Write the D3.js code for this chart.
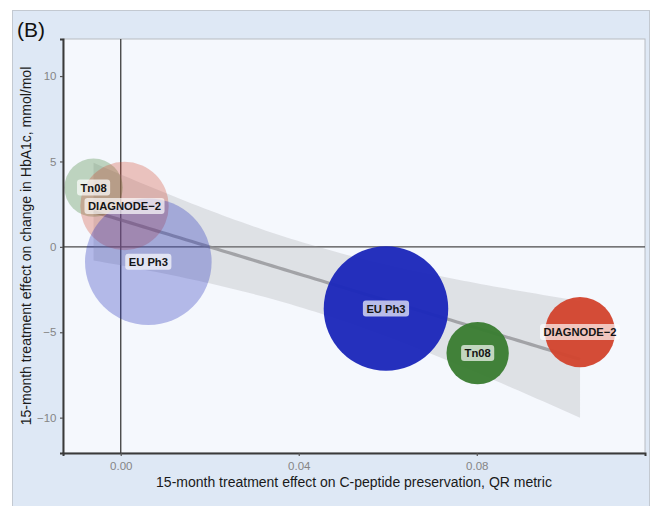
<!DOCTYPE html>
<html>
<head>
<meta charset="utf-8">
<script src="https://cdn.jsdelivr.net/npm/d3@7/dist/d3.min.js"></script>
<style>
  html, body { margin: 0; padding: 0; background: #ffffff; }
  svg { display: block; font-family: "Liberation Sans", Arial, Helvetica, sans-serif; }
</style>
</head>
<body>
<svg id="chart" width="652" height="506"></svg>
<script>
// Trial-level treatment effects: C-peptide preservation (QR metric) vs HbA1c change
const trialNames   = ["Tn08", "DIAGNODE\u22122", "EU Ph3", "EU Ph3", "Tn08", "DIAGNODE\u22122"];
const cpepEffect   = [-0.0061, 0.00085, 0.0062, 0.0596, 0.0802, 0.1032];
const hba1cEffect  = [3.47, 2.39, -0.87, -3.61, -6.22, -4.99];
const bubbleSize   = [8.5, 19.5, 40.0, 38.7, 9.7, 12.3];
const bubbleTone   = ["light", "light", "light", "full", "full", "full"];
const trialColour  = { "Tn08": "#3a7d32", "DIAGNODE\u22122": "#d2452f", "EU Ph3": "#1c28ba" };

const xTicks = [0.00, 0.04, 0.08];
const yTicks = [-10, -5, 0, 5, 10];
const xDomain = [-0.01297, 0.1178];
const yDomain = [-12.07, 12.17];
const T975_DF4 = 2.776; // Student t quantile, 95% two-sided, 4 df

const svg = d3.select("#chart");

// outer panel background
svg.append("rect")
  .attr("x", 12.5).attr("y", 10.5).attr("width", 637).attr("height", 500)
  .attr("fill", "#dee8f5").attr("stroke", "#c3c9d1").attr("stroke-width", 1);

const plot = { left: 63, right: 645, top: 39, bottom: 453 };

const x = d3.scaleLinear().domain(xDomain).range([plot.left, plot.right]);
const y = d3.scaleLinear().domain(yDomain).range([plot.bottom, plot.top]);
const r = d3.scaleSqrt().domain([0, 40]).range([0, 63.3]);

// plotting area
svg.append("rect")
  .attr("x", plot.left).attr("y", plot.top)
  .attr("width", plot.right - plot.left).attr("height", plot.bottom - plot.top)
  .attr("fill", "#f5f8fd").attr("stroke", "#b8bcc2").attr("stroke-width", 1);

const g = svg.append("g");

// reference lines at zero
g.append("line")
  .attr("x1", plot.left).attr("x2", plot.right)
  .attr("y1", y(0)).attr("y2", y(0))
  .attr("stroke", "#4a4a4a").attr("stroke-width", 1.4);
g.append("line")
  .attr("x1", x(0)).attr("x2", x(0))
  .attr("y1", plot.top).attr("y2", plot.bottom)
  .attr("stroke", "#4a4a4a").attr("stroke-width", 1.4);

// least-squares fit with 95% confidence band
const n = cpepEffect.length;
const mx = d3.mean(cpepEffect), my = d3.mean(hba1cEffect);
const sxx = d3.sum(cpepEffect, v => (v - mx) ** 2);
const sxy = d3.sum(cpepEffect.map((v, i) => (v - mx) * (hba1cEffect[i] - my)));
const slope = sxy / sxx, intercept = my - slope * mx;
const rss = d3.sum(cpepEffect.map((v, i) => (hba1cEffect[i] - (intercept + slope * v)) ** 2));
const sigma = Math.sqrt(rss / (n - 2));
const [xMin, xMax] = d3.extent(cpepEffect);
const fitPts = d3.range(80).map(k => {
  const xv = xMin + (xMax - xMin) * k / 79;
  const fit = intercept + slope * xv;
  const half = T975_DF4 * sigma * Math.sqrt(1 / n + (xv - mx) ** 2 / sxx);
  return { xv, fit, lo: fit - half, hi: fit + half };
});

g.append("path")
  .datum(fitPts)
  .attr("d", d3.area().x(d => x(d.xv)).y0(d => y(d.lo)).y1(d => y(d.hi)))
  .attr("fill", "#9a9ca0").attr("fill-opacity", 0.25);
g.append("path")
  .datum(fitPts)
  .attr("d", d3.line().x(d => x(d.xv)).y(d => y(d.fit)))
  .attr("fill", "none").attr("stroke", "#8e8e92").attr("stroke-opacity", 0.75)
  .attr("stroke-width", 3.2);

// bubbles
const rows = trialNames.map((name, i) => ({
  name, cx: cpepEffect[i], cy: hba1cEffect[i], size: bubbleSize[i], tone: bubbleTone[i]
}));

g.selectAll("circle.bubble")
  .data(rows)
  .join("circle")
  .attr("class", "bubble")
  .attr("cx", d => x(d.cx)).attr("cy", d => y(d.cy)).attr("r", d => r(d.size))
  .attr("fill", d => trialColour[d.name])
  .attr("fill-opacity", d => d.tone === "light" ? 0.3 : 0.96);

// value labels
const labels = g.selectAll("g.lab")
  .data(rows)
  .join("g")
  .attr("class", "lab")
  .attr("transform", d => `translate(${x(d.cx)},${y(d.cy)})`);

labels.append("text")
  .attr("text-anchor", "middle")
  .attr("dy", "0.36em")
  .attr("font-size", 11.2)
  .attr("font-weight", "bold")
  .attr("fill", "#151515")
  .text(d => d.name);

labels.each(function () {
  const grp = d3.select(this);
  const bb = grp.select("text").node().getBBox();
  grp.insert("rect", "text")
    .attr("x", bb.x - 3.5).attr("y", bb.y - 2)
    .attr("width", bb.width + 7).attr("height", bb.height + 4)
    .attr("rx", 3).attr("ry", 3)
    .attr("fill", "#ffffff").attr("fill-opacity", 0.68);
});

// axes
const xAxis = d3.axisBottom(x).tickValues(xTicks).tickFormat(d3.format(".2f")).tickSizeOuter(0).tickSize(3);
const yAxis = d3.axisLeft(y).tickValues(yTicks).tickFormat(d3.format("d")).tickSizeOuter(0).tickSize(3);

const gx = svg.append("g").attr("transform", `translate(0,${plot.bottom})`).call(xAxis);
const gy = svg.append("g").attr("transform", `translate(${plot.left},0)`).call(yAxis);

[gx, gy].forEach(ax => {
  ax.select(".domain").attr("stroke", "#3a3a3a").attr("stroke-width", 2);
  ax.selectAll(".tick line").attr("stroke", "#555").attr("stroke-width", 1.2);
  ax.selectAll(".tick text").attr("fill", "#858585").attr("font-size", 11.5)
    .attr("font-family", "'Liberation Sans', Arial, Helvetica, sans-serif");
});
gx.selectAll(".tick text").attr("dy", "0.95em");
gy.selectAll(".tick text").attr("dx", "-0.05em");

// axis titles
svg.append("text")
  .attr("x", (plot.left + plot.right) / 2).attr("y", 487)
  .attr("text-anchor", "middle").attr("font-size", 14).attr("fill", "#1a1a1a")
  .text("15-month treatment effect on C-peptide preservation, QR metric");

svg.append("text")
  .attr("transform", `translate(31,${(plot.top + plot.bottom) / 2}) rotate(-90)`)
  .attr("text-anchor", "middle").attr("font-size", 14).attr("fill", "#1a1a1a")
  .text("15-month treatment effect on change in HbA1c, mmol/mol");

// panel tag
svg.append("text")
  .attr("x", 17).attr("y", 37)
  .attr("font-size", 21).attr("fill", "#111")
  .text("(B)");
</script>
</body>
</html>
